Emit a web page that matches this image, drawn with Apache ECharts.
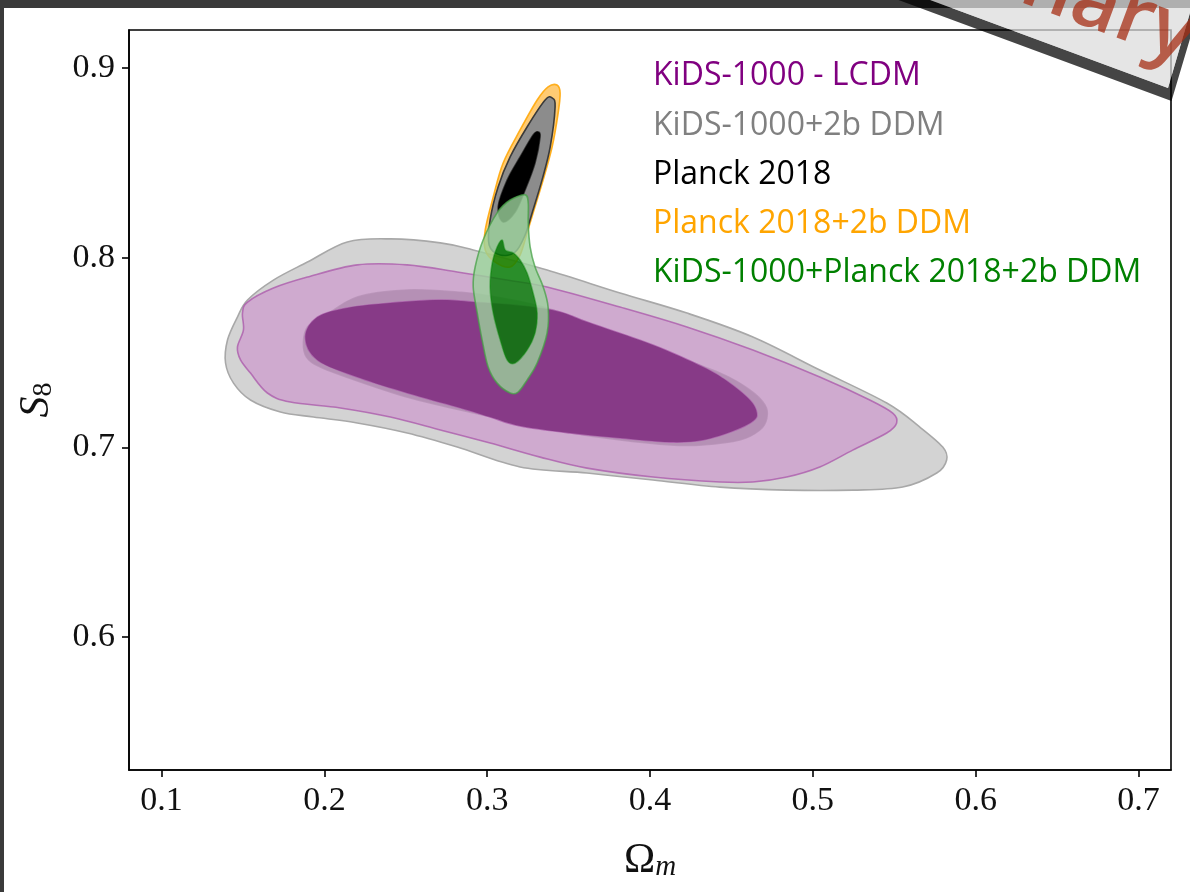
<!DOCTYPE html>
<html>
<head>
<meta charset="utf-8">
<script src="https://cdn.jsdelivr.net/npm/echarts@6/dist/echarts.min.js"></script>
<style>
  html, body { margin: 0; padding: 0; background: #ffffff; }
  #chart { width: 1190px; height: 892px; }
</style>
</head>
<body>
<div id="chart"></div>
<script>
// Axis ticks
const xTicks = [0.1, 0.2, 0.3, 0.4, 0.5, 0.6, 0.7];
const yTicks = [0.6, 0.7, 0.8, 0.9];

// Legend entries (text only) and their colours
const legendLabels = ['KiDS-1000 - LCDM', 'KiDS-1000+2b DDM', 'Planck 2018', 'Planck 2018+2b DDM', 'KiDS-1000+Planck 2018+2b DDM'];
const legendColors = ['#800080', '#808080', '#000000', '#ffa500', '#008000'];

// Contour boundaries as [Omega_m, S8] vertices
// KiDS-1000 + 2b DDM, 95% and 68%
const kidsDdm95 = [[0.1393,0.7445],[0.1405,0.7566],[0.1466,0.7687],[0.1528,0.7777],[0.1687,0.7882],[0.1896,0.7977],[0.2141,0.8083],[0.2405,0.8099],[0.2712,0.8078],[0.2914,0.8041],[0.3368,0.7935],[0.3816,0.7814],[0.4227,0.7708],[0.4632,0.7582],[0.5043,0.7408],[0.5454,0.7234],[0.5656,0.7108],[0.5798,0.7002],[0.5822,0.6934],[0.5761,0.6865],[0.5552,0.6791],[0.5245,0.6775],[0.4840,0.6775],[0.4429,0.6791],[0.4018,0.6828],[0.3613,0.6865],[0.3202,0.6897],[0.2816,0.7002],[0.2509,0.7076],[0.2202,0.7129],[0.1933,0.7160],[0.1730,0.7187],[0.1546,0.7250],[0.1442,0.7339]];
const kidsDdm68 = [[0.1871,0.7550],[0.1896,0.7635],[0.1994,0.7687],[0.2202,0.7793],[0.2509,0.7830],[0.2816,0.7819],[0.3018,0.7798],[0.3405,0.7724],[0.4018,0.7524],[0.4429,0.7392],[0.4613,0.7303],[0.4706,0.7224],[0.4718,0.7155],[0.4675,0.7092],[0.4552,0.7039],[0.4325,0.7013],[0.4123,0.7013],[0.3816,0.7039],[0.3448,0.7086],[0.3141,0.7139],[0.2834,0.7197],[0.2528,0.7260],[0.2221,0.7345],[0.1975,0.7424],[0.1890,0.7477]];
// KiDS-1000 LCDM, 95% and 68%
const kidsLcdm95 = [[0.1466,0.7529],[0.1503,0.7619],[0.1497,0.7708],[0.1528,0.7766],[0.1687,0.7840],[0.1896,0.7898],[0.2202,0.7962],[0.2509,0.7962],[0.2816,0.7925],[0.3123,0.7882],[0.3368,0.7846],[0.3816,0.7740],[0.4227,0.7635],[0.4632,0.7513],[0.5043,0.7371],[0.5350,0.7250],[0.5491,0.7181],[0.5515,0.7129],[0.5454,0.7076],[0.5245,0.6986],[0.5043,0.6897],[0.4840,0.6844],[0.4632,0.6818],[0.4429,0.6818],[0.4018,0.6844],[0.3613,0.6891],[0.3325,0.6949],[0.3018,0.7023],[0.2712,0.7092],[0.2405,0.7160],[0.2098,0.7208],[0.1791,0.7239],[0.1650,0.7287],[0.1546,0.7392],[0.1485,0.7461]];
const kidsLcdm68 = [[0.1883,0.7582],[0.1957,0.7687],[0.2141,0.7735],[0.2405,0.7761],[0.2712,0.7777],[0.2914,0.7766],[0.3221,0.7745],[0.3448,0.7714],[0.3613,0.7661],[0.4018,0.7540],[0.4325,0.7424],[0.4472,0.7350],[0.4613,0.7250],[0.4656,0.7181],[0.4632,0.7139],[0.4509,0.7086],[0.4325,0.7039],[0.4123,0.7028],[0.3816,0.7050],[0.3509,0.7076],[0.3202,0.7113],[0.3018,0.7160],[0.2816,0.7213],[0.2509,0.7287],[0.2202,0.7371],[0.1957,0.7461]];
// Planck 2018 + 2b DDM, 95%
const planckDdm95 = [[0.3429,0.8910],[0.3448,0.8868],[0.3436,0.8763],[0.3399,0.8584],[0.3344,0.8410],[0.3282,0.8236],[0.3245,0.8130],[0.3202,0.8014],[0.3141,0.7951],[0.3049,0.7977],[0.2988,0.8041],[0.2988,0.8146],[0.3037,0.8320],[0.3098,0.8499],[0.3202,0.8673],[0.3307,0.8831],[0.3374,0.8900]];
// Planck 2018, 95% and 68%
const planck95 = [[0.3399,0.8842],[0.3417,0.8794],[0.3387,0.8584],[0.3337,0.8410],[0.3276,0.8236],[0.3233,0.8120],[0.3172,0.8030],[0.3080,0.8014],[0.3012,0.8067],[0.3018,0.8199],[0.3067,0.8373],[0.3141,0.8531],[0.3245,0.8689],[0.3356,0.8831]];
const planck68 = [[0.3313,0.8663],[0.3325,0.8636],[0.3294,0.8499],[0.3233,0.8357],[0.3172,0.8241],[0.3098,0.8188],[0.3067,0.8267],[0.3123,0.8410],[0.3202,0.8531],[0.3282,0.8647]];
// KiDS-1000 + Planck 2018 + 2b DDM, 95% and 68%
const joint95 = [[0.3233,0.8331],[0.3141,0.8304],[0.3061,0.8236],[0.2975,0.8093],[0.2926,0.7951],[0.2914,0.7846],[0.2939,0.7708],[0.2969,0.7566],[0.3006,0.7424],[0.3061,0.7339],[0.3141,0.7287],[0.3190,0.7292],[0.3245,0.7355],[0.3307,0.7445],[0.3368,0.7603],[0.3374,0.7740],[0.3344,0.7846],[0.3294,0.7951],[0.3264,0.8056],[0.3252,0.8183],[0.3252,0.8288]];
const joint68 = [[0.3092,0.8093],[0.3111,0.8041],[0.3160,0.8025],[0.3202,0.7988],[0.3245,0.7919],[0.3282,0.7814],[0.3307,0.7708],[0.3294,0.7603],[0.3245,0.7513],[0.3172,0.7445],[0.3123,0.7461],[0.3080,0.7566],[0.3037,0.7708],[0.3018,0.7846],[0.3031,0.7972],[0.3061,0.8056]];

const bannerText = 'Preliminary';

// Closed Catmull-Rom curve through pixel points, as SVG path data
function smoothClosed(pts) {
  const n = pts.length;
  let d = 'M' + pts[0][0].toFixed(2) + ' ' + pts[0][1].toFixed(2);
  for (let i = 0; i < n; i++) {
    const p0 = pts[(i - 1 + n) % n], p1 = pts[i], p2 = pts[(i + 1) % n], p3 = pts[(i + 2) % n];
    const c1 = [p1[0] + (p2[0] - p0[0]) / 6, p1[1] + (p2[1] - p0[1]) / 6];
    const c2 = [p2[0] - (p3[0] - p1[0]) / 6, p2[1] - (p3[1] - p1[1]) / 6];
    d += 'C' + c1[0].toFixed(2) + ' ' + c1[1].toFixed(2) + ' ' + c2[0].toFixed(2) + ' ' + c2[1].toFixed(2) + ' ' + p2[0].toFixed(2) + ' ' + p2[1].toFixed(2);
  }
  return d + 'Z';
}
function signedArea(pts) {
  let a = 0;
  for (let i = 0; i < pts.length; i++) {
    const p = pts[i], q = pts[(i + 1) % pts.length];
    a += p[0] * q[1] - q[0] * p[1];
  }
  return a / 2;
}

// One filled region (optionally with a hole cut out) as a custom series
function region(name, outer, hole, style) {
  return {
    type: 'custom',
    name: name,
    coordinateSystem: 'cartesian2d',
    silent: true,
    data: outer,
    encode: { x: 0, y: 1 },
    renderItem: function (params, api) {
      if (params.dataIndex !== 0) return null;
      const o = outer.map(function (p) { return api.coord(p); });
      let d = smoothClosed(o);
      if (hole) {
        let h = hole.map(function (p) { return api.coord(p); });
        if (Math.sign(signedArea(h)) === Math.sign(signedArea(o))) h = h.slice().reverse();
        d += smoothClosed(h);
      }
      return { type: 'path', shape: { pathData: d }, style: style };
    }
  };
}

const serif = '"Liberation Serif", "DejaVu Serif", serif';
const sans = '"Open Sans", "Noto Sans", sans-serif';

const chart = echarts.init(document.getElementById('chart'), null, { renderer: 'canvas' });

// Corner ribbon: light band with a dark strip along its lower and right edges
const bandPts = [[1168, 88], [1204.5, -36.8], [641.7, -245], [605.2, -120.2]];
const shadowPts = [[605.2, -120.2], [1168, 88], [1204.5, -36.8], [1208, -21.8], [1171.5, 101], [608.7, -107.2]];

const legendY = [76, 125.5, 174.5, 223.5, 273];

const option = {
  backgroundColor: '#ffffff',
  animation: false,
  grid: { left: 129, right: 19, top: 30, bottom: 122, show: true, borderColor: '#000', borderWidth: 1.6, backgroundColor: 'transparent' },
  xAxis: {
    type: 'value', min: 0.08, max: 0.72,
    name: '{o|Ω}{m|m}', nameLocation: 'middle', nameGap: 70,
    nameTextStyle: {
      rich: {
        o: { fontFamily: serif, fontSize: 42, lineHeight: 42, color: '#111' },
        m: { fontFamily: serif, fontStyle: 'italic', fontSize: 29, lineHeight: 24, verticalAlign: 'bottom', color: '#111' }
      }
    },
    axisLine: { show: true, onZero: false, lineStyle: { color: '#000', width: 1.6 } },
    axisTick: { show: true, inside: false, length: 7, customValues: xTicks, lineStyle: { color: '#000', width: 1.6 } },
    axisLabel: { customValues: xTicks, margin: 14, color: '#111', fontFamily: serif, fontSize: 34, formatter: function (v) { return v.toFixed(1); } },
    splitLine: { show: false }
  },
  yAxis: {
    type: 'value', min: 0.53, max: 0.92,
    name: '{s|S}{n|8}', nameLocation: 'middle', nameGap: 71, nameRotate: 90,
    nameTextStyle: {
      rich: {
        s: { fontFamily: serif, fontStyle: 'italic', fontSize: 42, lineHeight: 42, color: '#111' },
        n: { fontFamily: serif, fontSize: 28, lineHeight: 24, verticalAlign: 'bottom', color: '#111' }
      }
    },
    axisLine: { show: true, onZero: false, lineStyle: { color: '#000', width: 1.6 } },
    axisTick: { show: true, inside: false, length: 7, customValues: yTicks, lineStyle: { color: '#000', width: 1.6 } },
    axisLabel: { customValues: yTicks, margin: 14, color: '#111', fontFamily: serif, fontSize: 34, formatter: function (v) { return v.toFixed(1); } },
    splitLine: { show: false }
  },
  series: [
    region('KiDS-1000+2b DDM 95', kidsDdm95, kidsDdm68, { fill: '#d3d3d3', stroke: '#a8a8a8', lineWidth: 1.6 }),
    region('KiDS-1000+2b DDM 68', kidsDdm68, null, { fill: '#999999' }),
    region('KiDS-1000 - LCDM 95', kidsLcdm95, kidsLcdm68, { fill: 'rgba(204,136,204,0.55)', stroke: 'rgba(170,85,170,0.75)', lineWidth: 1.6 }),
    region('KiDS-1000 - LCDM 68', kidsLcdm68, null, { fill: '#873a87' }),
    region('Planck 2018+2b DDM 95', planckDdm95, null, { fill: 'rgba(255,160,0,0.55)', stroke: 'rgba(255,165,0,0.85)', lineWidth: 1.6 }),
    region('Planck 2018 95', planck95, planck68, { fill: '#8c8c8c', stroke: '#3a3a3a', lineWidth: 1.6 }),
    region('Planck 2018 68', planck68, null, { fill: '#000000' }),
    region('KiDS-1000+Planck 2018+2b DDM 95', joint95, joint68, { fill: 'rgba(155,210,155,0.8)', stroke: 'rgba(70,160,70,0.75)', lineWidth: 1.6 }),
    region('KiDS-1000+Planck 2018+2b DDM 68', joint68, null, { fill: 'rgba(0,125,0,0.8)' })
  ],
  graphic: [
    { type: 'rect', z: 50, silent: true, shape: { x: 0, y: 0, width: 1190, height: 8 }, style: { fill: '#3a3a3a' } },
    { type: 'rect', z: 50, silent: true, shape: { x: 0, y: 0, width: 4, height: 892 }, style: { fill: '#3a3a3a' } }
  ].concat(legendLabels.map(function (t, i) {
    return { type: 'text', z: 60, silent: true, x: 653, y: legendY[i],
      style: { text: t, fill: legendColors[i], font: '32px ' + sans, align: 'left', verticalAlign: 'middle' } };
  })).concat([
    { type: 'polygon', z: 100, silent: true, shape: { points: shadowPts }, style: { fill: 'rgba(0,0,0,0.73)' } },
    { type: 'polygon', z: 101, silent: true, shape: { points: bandPts }, style: { fill: 'rgba(219,219,219,0.73)' } },
    { type: 'group', z: 102, x: 1182, y: 70, rotation: -0.355, silent: true, children: [
      { type: 'text', z: 102, x: 0, y: -31, style: { text: bannerText, fill: 'rgba(165,45,20,0.75)', font: '600 82px ' + sans, align: 'right', verticalAlign: 'middle' } }
    ] }
  ])
};

chart.setOption(option);
</script>
</body>
</html>
